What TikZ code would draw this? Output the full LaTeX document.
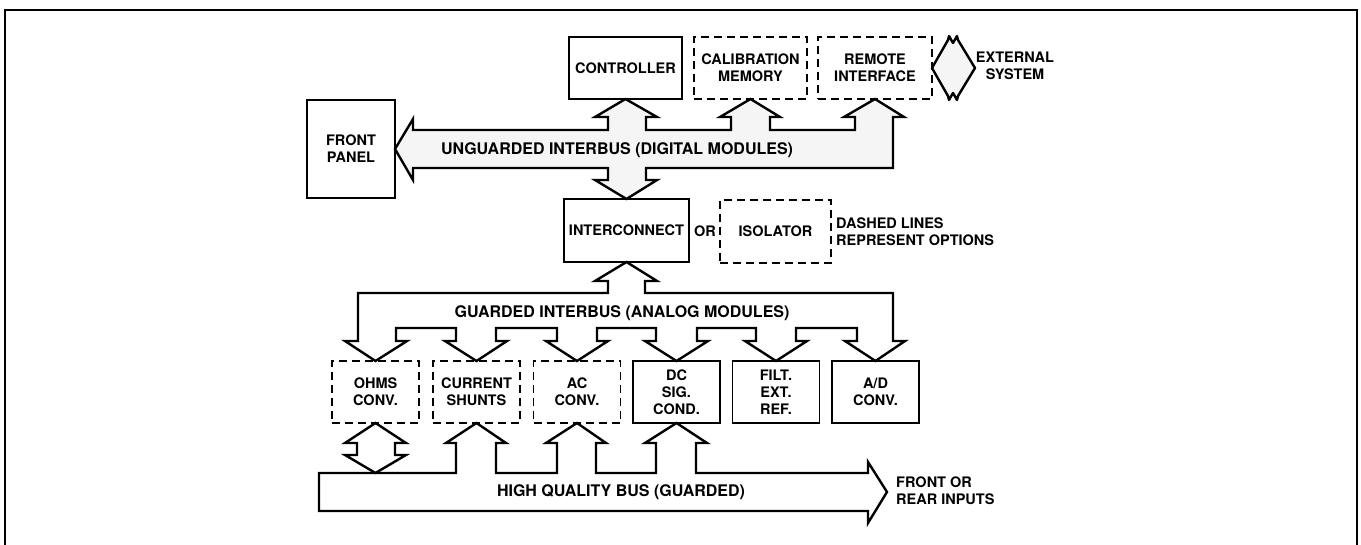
\documentclass[tikz,border=0pt]{standalone}
\usepackage{fontspec}
\setmainfont{TeX Gyre Heros}
\newcommand{\bxfont}{\bfseries\fontsize{14.5}{17}\selectfont}
\newcommand{\bsfont}{\bfseries\fontsize{16}{19}\selectfont}
\begin{document}
\begin{tikzpicture}[x=1pt,y=-1pt,line join=miter,
  box/.style={draw,line width=1.8pt,inner sep=0pt,outer sep=0pt,align=center,font=\bxfont},
  optbox/.style={box,dash pattern=on 8pt off 5pt},
  modbox/.style={minimum width=87pt,minimum height=62pt},
  bus/.style={draw,line width=2.4pt},
  buslbl/.style={font=\bsfont,inner sep=0pt},
  plain/.style={font=\bxfont,inner sep=0pt,align=center}]
\useasboundingbox (0,0) rectangle (1361,545);
% frame
\draw[line width=2.5pt] (5,545) -- (5,10) -- (1357,10) -- (1357,545);

% boxes
\node[box,minimum width=113pt,minimum height=62pt] (ctrl) at (625.5,68) {CONTROLLER};
\node[optbox,minimum width=113pt,minimum height=62pt] (calib) at (750.5,68) {CALIBRATION\\MEMORY};
\node[optbox,minimum width=114pt,minimum height=62pt] (remote) at (875,68) {REMOTE\\INTERFACE};
\node[box,minimum width=88pt,minimum height=98pt] (front) at (351,149) {FRONT\\PANEL};
\node[box,minimum width=125pt,minimum height=63pt] (inter) at (626.5,230.5) {INTERCONNECT};
\node[optbox,minimum width=111pt,minimum height=63pt] (iso) at (775.5,231.5) {ISOLATOR};
\node[plain] (or) at (705,231) {OR};
\node[plain,align=left,anchor=west] (note) at (836,232) {DASHED LINES\\REPRESENT OPTIONS};
\node[plain] (ext) at (1015,66) {EXTERNAL\\SYSTEM};

\node[optbox,modbox] (ohms) at (375.5,392) {OHMS\\CONV.};
\node[optbox,modbox] (shunt) at (476.5,392) {CURRENT\\SHUNTS};
\node[optbox,modbox] (ac) at (577,392) {AC\\CONV.};
\node[box,modbox] (dc) at (676.5,392) {DC\\SIG.\\COND.};
\node[box,modbox] (filt) at (776,392) {FILT.\\EXT.\\REF.};
\node[box,modbox] (ad) at (875.5,392) {A/D\\CONV.};

% unguarded interbus
\path[bus,fill=black!4] (413,130) -- (608,130) -- (608,117) -- (595,117) -- (ctrl.south)
  -- (657,117) -- (646,117) -- (646,130) -- (731,130) -- (731,117) -- (720,117) -- (calib.south)
  -- (780,117) -- (770,117) -- (770,130) -- (855,130) -- (855,117) -- (844,117) -- (remote.south)
  -- (904,117) -- (893,117) -- (893,168) -- (646,168) -- (646,180) -- (657,180) -- (inter.north)
  -- (595,180) -- (608,180) -- (608,168) -- (413,168) -- (413,180) -- (front.east)
  -- (413,119) -- cycle;
\node[buslbl] (ulbl) at (617,150) {UNGUARDED INTERBUS (DIGITAL MODULES)};

% external system double arrow
\path[bus,fill=black!4,line join=round] (remote.east) -- (948,40) -- (949,36) -- (953,43) -- (957,36) -- (958,40) -- (975,68)
  -- (958,96) -- (957,100) -- (953,93) -- (949,100) -- (948,96) -- cycle;

% guarded interbus
\path[bus] (358,293) -- (608,293) -- (608,281) -- (595,281) -- (inter.south) -- (657,281) -- (645,281)
  -- (645,293) -- (893,293) -- (893,341) -- (905,341) -- (ad.north) -- (845,341) -- (857,341)
  -- (857,328) -- (796,328) -- (796,341) -- (807,341) -- (filt.north) -- (745,341) -- (756,341)
  -- (756,328) -- (697,328) -- (697,341) -- (708,341) -- (dc.north) -- (645,341) -- (656,341)
  -- (656,328) -- (597,328) -- (597,341) -- (608,341) -- (ac.north) -- (546,341) -- (557,341)
  -- (557,328) -- (496,328) -- (496,341) -- (507,341) -- (shunt.north) -- (445,341) -- (456,341)
  -- (456,328) -- (396,328) -- (396,341) -- (407,341) -- (ohms.north) -- (345,341) -- (358,341) -- cycle;
\node[buslbl] (glbl) at (622,313) {GUARDED INTERBUS (ANALOG MODULES)};

% high quality bus
\coordinate (hqtip) at (887,492);
\path[bus] (319,473) -- (456,473) -- (456,443) -- (446,443) -- (shunt.south) -- (506,443) -- (496,443)
  -- (496,473) -- (557,473) -- (557,443) -- (546,443) -- (ac.south) -- (606,443) -- (596,443)
  -- (596,473) -- (656,473) -- (656,443) -- (645,443) -- (dc.south) -- (707,443) -- (696,443)
  -- (696,473) -- (868,473) -- (868,462) -- (hqtip) -- (868,523) -- (868,511) -- (319,511) -- cycle;
\node[buslbl] (hlbl) at (621,492) {HIGH QUALITY BUS (GUARDED)};
\node[plain,align=left,anchor=west] (inputs) at (896,491) {FRONT OR\\REAR INPUTS};

% ohms double arrow
\coordinate (ohmsbus) at (375.5,473);
\path[bus] (ohms.south) -- (406,443) -- (395,443) -- (395,455) -- (406,455) -- (ohmsbus)
  -- (345,455) -- (357,455) -- (357,443) -- (345,443) -- cycle;
\end{tikzpicture}
\end{document}
